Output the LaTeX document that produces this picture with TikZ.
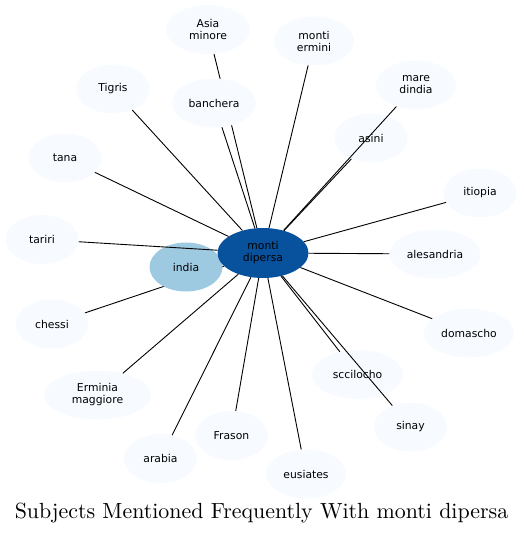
\documentclass[tikz,border=0pt]{standalone}
\usepackage{fontspec}
\usepackage{xcolor}
\usetikzlibrary{shapes.geometric, backgrounds}
\newfontfamily\labelfont{DejaVu Sans}
\newfontfamily\titlefont{lmroman10-regular}[Extension=.otf]
\definecolor{paleblue}{HTML}{F7FBFF}
\definecolor{midblue}{HTML}{9ECAE1}
\definecolor{deepblue}{HTML}{08519C}

\begin{document}
\begin{tikzpicture}[x=1pt, y=-1pt,
  subj/.style={ellipse, fill=paleblue, inner sep=0pt, minimum width=73pt, minimum height=49pt,
    align=center, font=\labelfont\fontsize{10.8}{12}\selectfont},
  link/.style={line width=0.9pt}]
\useasboundingbox (0,0) rectangle (523,535);

% outer subjects
\node[subj, minimum width=84pt] (asia) at (208,29.5) {Asia\\minore};
\node[subj, minimum width=80pt] (ermini) at (314,41) {monti\\ermini};
\node[subj, minimum width=80pt] (dindia) at (416,85) {mare\\dindia};
\node[subj, minimum width=84pt] (banchera) at (214,103) {banchera};
\node[subj] (asini) at (371,138) {asini};
\node[subj] (tigris) at (113,89) {Tigris};
\node[subj] (tana) at (65,158) {tana};
\node[subj] (tariri) at (42,239.5) {tariri};
\node[subj] (itiopia) at (480,193) {itiopia};
\node[subj, minimum width=91pt] (alesandria) at (435,254) {alesandria};
\node[subj] (chessi) at (52,324) {chessi};
\node[subj, minimum width=90pt] (domascho) at (469,333) {domascho};
\node[subj, minimum width=91pt] (sccilocho) at (357.5,374.5) {sccilocho};
\node[subj, minimum width=107pt] (erminia) at (97.5,395) {Erminia\\maggiore};
\node[subj] (sinay) at (410.5,427) {sinay};
\node[subj] (frason) at (231.5,435.5) {Frason};
\node[subj] (arabia) at (160.5,458.5) {arabia};
\node[subj, minimum width=80pt] (eusiates) at (306,474) {eusiates};

% centre
\node[subj, fill=midblue] (india) at (186,267) {india};
\node[subj, fill=deepblue, minimum width=91pt, minimum height=50pt] (dipersa) at (263,253) {monti\\dipersa};

% links
\begin{pgfonlayer}{background}
\draw[link] (dipersa) -- (asia);
\draw[link] (dipersa) -- (chessi);
\end{pgfonlayer}
\foreach \n in {banchera, ermini, dindia, asini, tigris, tana, tariri, itiopia, alesandria,
  domascho, sccilocho, sinay, eusiates, frason, arabia, erminia}
  \draw[link] (dipersa) -- (\n);

\node[font=\titlefont\fontsize{21.9}{25}\selectfont] (title) at (261.5,513) {Subjects Mentioned Frequently With monti dipersa};
\end{tikzpicture}
\end{document}
